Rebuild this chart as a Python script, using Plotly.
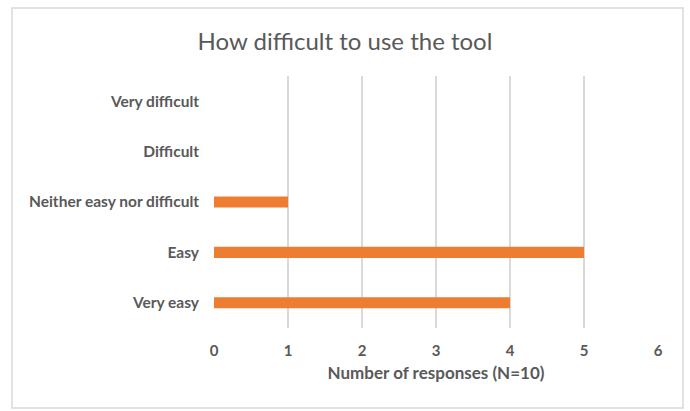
import plotly.graph_objects as go

categories = ["Very easy", "Easy", "Neither easy nor difficult", "Difficult", "Very difficult"]
responses = [4, 5, 1, 0, 0]
x_ticks = [0, 1, 2, 3, 4, 5, 6]

grey = "#595959"
font_name = "Lato, Carlito, 'Open Sans', sans-serif"

fig = go.Figure()
fig.add_trace(go.Bar(
    y=categories,
    x=responses,
    orientation="h",
    marker=dict(color="#ED7D31", line=dict(width=0)),
    width=0.22,
))

fig.update_layout(
    width=690,
    height=411,
    margin=dict(l=214, r=32, t=76, b=83),
    paper_bgcolor="white",
    plot_bgcolor="white",
    showlegend=False,
    font=dict(family=font_name, color=grey),
    title=dict(
        text="How difficult to use the tool",
        x=0.5, xanchor="center",
        y=1 - 42 / 411, yanchor="middle", yref="container",
        font=dict(size=24, color=grey, family=font_name),
    ),
    xaxis=dict(
        range=[0, 6],
        tickvals=x_ticks,
        showgrid=True,
        gridcolor="#d9d9d9",
        gridwidth=1.5,
        zeroline=False,
        showline=False,
        ticks="",
        ticklabelstandoff=12,
        tickfont=dict(size=15, color=grey, family=font_name, weight="bold"),
        title=dict(text="<b>Number of responses (N=10)</b>", font=dict(size=17, color=grey), standoff=9),
        fixedrange=True,
    ),
    yaxis=dict(
        categoryorder="array",
        categoryarray=categories,
        showgrid=False,
        zeroline=False,
        showline=False,
        ticks="",
        ticklabelstandoff=14,
        tickfont=dict(size=15.5, color=grey, family=font_name, weight="bold"),
        fixedrange=True,
    ),
)

# chart border
fig.add_shape(
    type="rect", xref="paper", yref="paper",
    x0=(12 - 214) / 444, x1=(683 - 214) / 444,
    y0=(328 - 408) / 252, y1=(328 - 8) / 252,
    line=dict(color="#d9d9d9", width=1.5),
    fillcolor="rgba(0,0,0,0)",
    layer="below",
)

fig.write_html("out.html", config={"displayModeBar": False},
               post_script="document.body.style.margin='0';")
